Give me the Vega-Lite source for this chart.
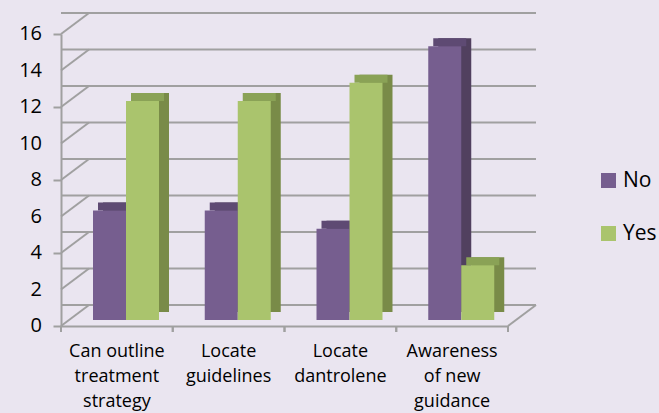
{
  "$schema": "https://vega.github.io/schema/vega-lite/v6.json",
  "width": 447,
  "height": 292,
  "autosize": "none",
  "padding": {"left": 61, "top": 34, "right": 151, "bottom": 87},
  "background": "#EAE5F0",
  "config": {"view": {"stroke": null}, "font": "Open Sans"},
  "datasets": {
    "bars": [
      {"category": "Can outline treatment strategy", "series": "No", "value": 6},
      {"category": "Can outline treatment strategy", "series": "Yes", "value": 12},
      {"category": "Locate guidelines", "series": "No", "value": 6},
      {"category": "Locate guidelines", "series": "Yes", "value": 12},
      {"category": "Locate dantrolene", "series": "No", "value": 5},
      {"category": "Locate dantrolene", "series": "Yes", "value": 13},
      {"category": "Awareness of new guidance", "series": "No", "value": 15},
      {"category": "Awareness of new guidance", "series": "Yes", "value": 3}
    ],
    "grid": [{"v": 0}, {"v": 2}, {"v": 4}, {"v": 6}, {"v": 8}, {"v": 10}, {"v": 12}, {"v": 14}, {"v": 16}],
    "floor": [{"v": 0}]
  },
  "layer": [
    {
      "data": {"name": "grid"},
      "mark": {"type": "rule", "color": "#A0A0A0", "strokeWidth": 2, "xOffset": 28, "x2Offset": 28, "yOffset": -21},
      "encoding": {
        "y": {"field": "v", "type": "quantitative", "scale": {"domain": [0, 16], "nice": false}}
      }
    },
    {
      "data": {"name": "grid"},
      "mark": {"type": "rule", "color": "#A0A0A0", "strokeWidth": 2, "x2Offset": 28, "y2Offset": -21},
      "encoding": {
        "x": {"datum": "Can outline treatment strategy", "type": "nominal", "bandPosition": 0},
        "x2": {"datum": "Can outline treatment strategy", "bandPosition": 0},
        "y": {"field": "v", "type": "quantitative"},
        "y2": {"field": "v"}
      }
    },
    {
      "data": {"name": "grid"},
      "mark": {"type": "text", "align": "right", "baseline": "middle", "dx": -19, "fontSize": 20, "color": "#000000"},
      "encoding": {
        "x": {"datum": "Can outline treatment strategy", "type": "nominal", "bandPosition": 0},
        "y": {"field": "v", "type": "quantitative"},
        "text": {"field": "v", "type": "quantitative"}
      }
    },
    {
      "data": {"name": "floor"},
      "mark": {"type": "rule", "color": "#A0A0A0", "strokeWidth": 2, "x2Offset": 28, "y2Offset": -21},
      "encoding": {
        "x": {"datum": "Awareness of new guidance", "type": "nominal", "bandPosition": 1},
        "x2": {"datum": "Awareness of new guidance", "bandPosition": 1},
        "y": {"field": "v", "type": "quantitative"},
        "y2": {"field": "v"}
      }
    },
    {
      "data": {"name": "floor"},
      "mark": {"type": "rule", "color": "#A0A0A0", "strokeWidth": 2, "y2Offset": 6},
      "encoding": {
        "x": {"datum": "Awareness of new guidance", "type": "nominal", "bandPosition": 1},
        "y": {"field": "v", "type": "quantitative"},
        "y2": {"field": "v"}
      }
    },
    {
      "data": {"name": "bars"},
      "mark": {"type": "rule", "color": "#A0A0A0", "strokeWidth": 2, "y2Offset": 6},
      "encoding": {
        "x": {"field": "category", "type": "nominal", "bandPosition": 0, "sort": null},
        "y": {"datum": 0, "type": "quantitative"},
        "y2": {"datum": 0}
      }
    },
    {
      "data": {"name": "bars"},
      "mark": {"type": "bar", "yOffset": -14, "y2Offset": -14},
      "encoding": {
        "x": {"field": "category", "type": "nominal", "sort": null},
        "xOffset": {"field": "series", "type": "nominal", "scale": {"range": [42, 108], "paddingInner": 0, "paddingOuter": 0}},
        "y": {"field": "value", "type": "quantitative"},
        "color": {"condition": {"test": "datum.series === 'No'", "value": "#51405F"}, "value": "#798B48"}
      }
    },
    {
      "data": {"name": "bars"},
      "mark": {"type": "bar", "yOffset": -14, "y2Offset": -6},
      "encoding": {
        "x": {"field": "category", "type": "nominal", "sort": null},
        "xOffset": {"field": "series", "type": "nominal", "scale": {"range": [37, 103], "paddingInner": 0, "paddingOuter": 0}},
        "y": {"field": "value", "type": "quantitative"},
        "y2": {"field": "value"},
        "color": {"condition": {"test": "datum.series === 'No'", "value": "#5E4A73"}, "value": "#8AA256"}
      }
    },
    {
      "data": {"name": "bars"},
      "mark": {"type": "bar", "yOffset": -6, "y2Offset": -6},
      "encoding": {
        "x": {
          "field": "category", "type": "nominal", "sort": null,
          "scale": {"domain": ["Can outline treatment strategy", "Locate guidelines", "Locate dantrolene", "Awareness of new guidance"], "paddingInner": 0, "paddingOuter": 0},
          "axis": {
            "title": null, "labelAngle": 0, "labelAlign": "center", "ticks": false,
            "domainColor": "#A0A0A0", "domainWidth": 2, "labelFontSize": 18, "labelLineHeight": 25, "labelPadding": 16,
            "labelColor": "#000000", "labelBaseline": "top",
            "labelExpr": "datum.value == 'Can outline treatment strategy' ? ['Can outline','treatment','strategy'] : datum.value == 'Locate guidelines' ? ['Locate','guidelines'] : datum.value == 'Locate dantrolene' ? ['Locate','dantrolene'] : ['Awareness','of new','guidance']"
          }
        },
        "xOffset": {"field": "series", "type": "nominal", "scale": {"range": [32, 98], "paddingInner": 0, "paddingOuter": 0}},
        "y": {
          "field": "value", "type": "quantitative",
          "axis": {
            "title": null, "values": [0, 2, 4, 6, 8, 10, 12, 14, 16], "grid": false, "domainColor": "#A0A0A0", "domainWidth": 2,
            "tickColor": "#A0A0A0", "tickSize": 8, "tickWidth": 2, "labels": false
          }
        },
        "color": {
          "field": "series", "type": "nominal",
          "scale": {"domain": ["No", "Yes"], "range": ["#765E8F", "#AAC46D"]},
          "legend": {
            "title": null, "orient": "none", "legendX": 537, "legendY": 136, "symbolType": "square", "symbolSize": 225,
            "symbolStrokeWidth": 0, "labelFontSize": 21, "labelColor": "#000000", "rowPadding": 31, "labelOffset": 4
          }
        }
      }
    }
  ],
  "resolve": {"scale": {"xOffset": "independent"}}
}
